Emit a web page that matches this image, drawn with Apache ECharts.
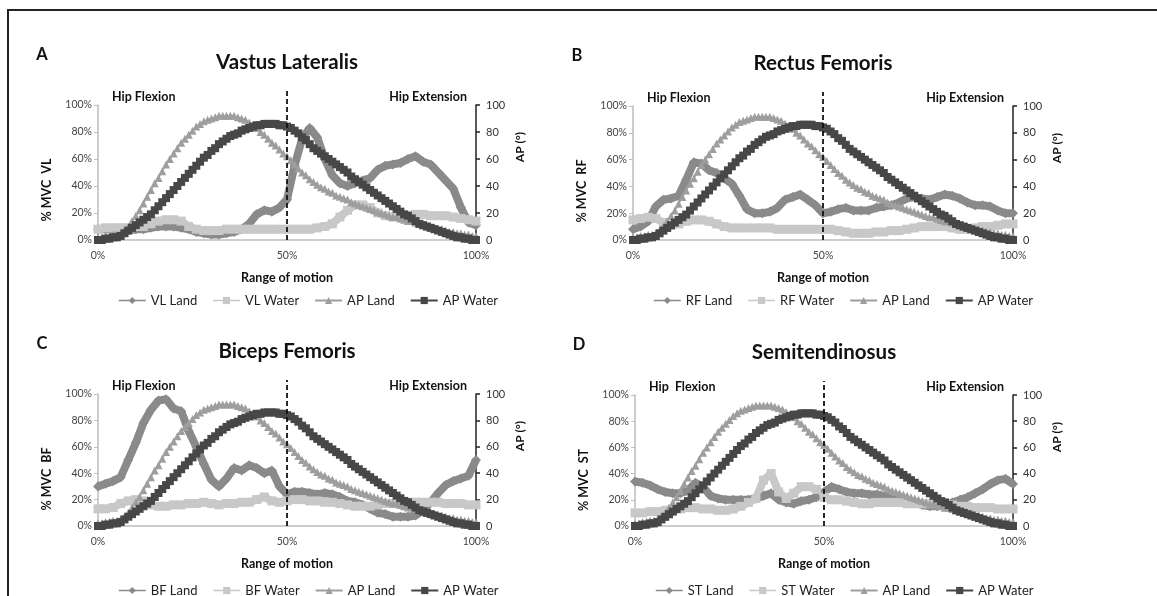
<!DOCTYPE html>
<html>
<head>
<meta charset="utf-8">
<script src="https://cdn.jsdelivr.net/npm/echarts@6/dist/echarts.min.js"></script>
<style>
html, body { margin: 0; padding: 0; background: #fff; }
#chart { width: 1157px; height: 596px; }
</style>
</head>
<body>
<div id="chart"></div>
<script>
// x = percent of range of motion
var xTickPct = [0, 50, 100];
var dividerPct = 50;
var pctFine = [];
for (var i = 0; i <= 100; i++) pctFine.push(i);
var pctEmg = [];
for (var j = 0; j <= 100; j += 2) pctEmg.push(j);

// hip angle (AP, degrees) - same curves in all four panels
var apLand = [2, 2, 3, 3, 4, 4, 5, 7, 10, 14,
  18, 22, 27, 32, 37, 42, 46, 51, 56, 60,
  64, 68, 72, 75, 78, 81, 84, 86, 88, 89,
  90, 91, 92, 92, 92, 92, 92, 91, 90, 89,
  87, 85, 83, 80, 78, 75, 72, 70, 67, 64,
  62, 59, 56, 53, 50, 48, 45, 43, 41, 39,
  38, 36, 35, 33, 32, 31, 30, 28, 27, 26,
  25, 24, 23, 22, 21, 20, 19, 18, 17, 17,
  16, 15, 14, 14, 13, 12, 11, 10, 10, 9,
  8, 8, 7, 6, 6, 5, 5, 4, 4, 3,
  3];
var apWater = [0, 0, 1, 1, 2, 2, 3, 5, 7, 9,
  11, 13, 15, 17, 19, 22, 25, 28, 31, 34,
  37, 40, 43, 46, 49, 52, 55, 58, 61, 63,
  66, 68, 71, 73, 75, 77, 78, 79, 81, 82,
  83, 84, 85, 85, 86, 86, 86, 86, 85, 85,
  84, 83, 81, 79, 76, 74, 71, 68, 66, 64,
  62, 60, 58, 56, 54, 52, 50, 47, 45, 43,
  41, 39, 37, 35, 33, 31, 29, 27, 25, 23,
  21, 19, 18, 16, 14, 12, 11, 10, 9, 8,
  7, 6, 5, 4, 3, 2, 2, 1, 1, 0,
  0];

// EMG (% MVC), every 2% of motion
var vlLand = [8, 8, 8, 8, 7, 8, 8, 9, 10, 10,
  10, 9, 8, 6, 5, 4, 4, 5, 6, 8,
  12, 19, 22, 21, 24, 30, 55, 75, 83, 76,
  60, 48, 42, 40, 42, 44, 46, 52, 55, 56,
  57, 60, 62, 58, 56, 50, 44, 38, 24, 13,
  11];
var vlWater = [8, 9, 9, 9, 9, 10, 10, 12, 14, 15,
  15, 14, 10, 8, 7, 7, 7, 8, 8, 8,
  8, 8, 8, 8, 8, 8, 8, 8, 8, 9,
  10, 12, 17, 22, 26, 26, 24, 20, 18, 17,
  18, 18, 19, 19, 18, 18, 18, 17, 16, 15,
  14];
var rfLand = [8, 10, 14, 25, 30, 31, 33, 45, 58, 57,
  52, 50, 46, 42, 33, 23, 20, 20, 21, 24,
  30, 32, 34, 30, 26, 20, 21, 23, 24, 22,
  22, 22, 24, 25, 26, 28, 31, 32, 31, 30,
  32, 34, 33, 31, 28, 26, 26, 25, 22, 20,
  20];
var rfWater = [15, 16, 17, 16, 13, 11, 12, 14, 15, 15,
  14, 12, 10, 9, 9, 9, 9, 9, 9, 8,
  8, 8, 8, 8, 8, 8, 8, 7, 6, 5,
  5, 5, 6, 6, 7, 7, 8, 9, 10, 10,
  10, 10, 9, 8, 8, 9, 10, 10, 11, 12,
  12];
var bfLand = [30, 32, 34, 37, 50, 63, 78, 88, 95, 96,
  89, 87, 72, 60, 47, 35, 30, 36, 44, 42,
  46, 44, 40, 42, 30, 24, 26, 26, 25, 24,
  25, 24, 22, 19, 18, 16, 13, 10, 9, 7,
  7, 7, 8, 12, 18, 25, 31, 34, 36, 38,
  50];
var bfWater = [13, 13, 14, 17, 19, 20, 19, 16, 15, 15,
  16, 16, 17, 17, 18, 17, 16, 17, 17, 18,
  18, 20, 22, 19, 18, 19, 20, 20, 19, 19,
  18, 18, 17, 16, 15, 15, 15, 16, 17, 17,
  17, 18, 18, 18, 18, 18, 17, 17, 17, 16,
  16];
var stLand = [34, 33, 31, 28, 26, 25, 25, 27, 33, 30,
  23, 21, 20, 20, 20, 20, 21, 23, 25, 20,
  18, 17, 19, 20, 22, 26, 30, 28, 26, 25,
  25, 24, 24, 23, 22, 21, 20, 18, 16, 15,
  15, 16, 18, 20, 22, 25, 28, 32, 35, 36,
  32];
var stWater = [10, 10, 11, 11, 12, 12, 13, 14, 14, 13,
  13, 12, 12, 13, 15, 18, 21, 35, 40, 26,
  21, 25, 30, 30, 28, 22, 20, 20, 19, 18,
  17, 17, 18, 18, 18, 18, 17, 17, 17, 17,
  17, 17, 16, 15, 15, 14, 14, 14, 13, 13,
  13];

var panels = [
  { letter: "A", title: "Vastus Lateralis", abbr: "VL", land: vlLand, water: vlWater, flex: "Hip Flexion",
    box: { left: 98, right: 476, top: 105, bottom: 240 }, legendGap: 49 },
  { letter: "B", title: "Rectus Femoris", abbr: "RF", land: rfLand, water: rfWater, flex: "Hip Flexion",
    box: { left: 633, right: 1013, top: 106, bottom: 240 }, legendGap: 49 },
  { letter: "C", title: "Biceps Femoris", abbr: "BF", land: bfLand, water: bfWater, flex: "Hip Flexion",
    box: { left: 98, right: 476, top: 394, bottom: 526 }, legendGap: 53 },
  { letter: "D", title: "Semitendinosus", abbr: "ST", land: stLand, water: stWater, flex: "Hip  Flexion",
    box: { left: 635, right: 1013, top: 395, bottom: 526 }, legendGap: 53 }
];

var W = 1157, H = 596;
var font = 'Lato, "Open Sans", sans-serif';
var colLand = "#8a8a8a", colWater = "#c8c8c8", colApLand = "#9e9e9e", colApWater = "#474747";

function pairs(xs, ys) {
  return xs.map(function (x, k) { return [x, ys[k]]; });
}
function txt(x, y, text, size, opts) {
  opts = opts || {};
  return {
    type: "text", x: x, y: y, rotation: opts.rot || 0, silent: true,
    style: {
      text: text, fontFamily: font, fontSize: size, fontWeight: opts.weight || "bold",
      fill: "#111", align: opts.align || "center", verticalAlign: "middle"
    }
  };
}

var grid = [], xAxis = [], yAxis = [], series = [], legend = [];
var graphic = [{
  type: "rect", silent: true,
  shape: { x: 8, y: 10, width: 1160, height: 600 },
  style: { fill: "none", stroke: "#222", lineWidth: 2 }
}];

panels.forEach(function (p) {
  var b = p.box;
  var g = grid.length;
  grid.push({ left: b.left, right: W - b.right, top: b.top, bottom: H - b.bottom });
  // overlay grid a bit taller, only for the dashed divider
  grid.push({ left: b.left, right: W - b.right, top: b.top - 14, bottom: H - b.bottom });

  var xi = xAxis.length;
  xAxis.push({
    type: "value", gridIndex: g, min: 0, max: 100, interval: 50,
    axisLine: { lineStyle: { color: "#bdbdbd", width: 1.5 } },
    axisTick: { show: false }, splitLine: { show: false },
    axisLabel: { formatter: "{value}%", fontSize: 10.5, color: "#444", margin: 10, fontFamily: font,
      customValues: xTickPct }
  });
  xAxis.push({ type: "value", gridIndex: g + 1, min: 0, max: 100, show: false });

  var yi = yAxis.length;
  yAxis.push({
    type: "value", gridIndex: g, min: 0, max: 100, interval: 20, position: "left",
    axisLine: { show: true, lineStyle: { color: "#bdbdbd", width: 1.5 } },
    axisTick: { show: true, length: 4, lineStyle: { color: "#bdbdbd" } },
    splitLine: { show: false },
    axisLabel: { formatter: "{value}%", fontSize: 10.5, color: "#444", margin: 6, fontFamily: font }
  });
  yAxis.push({
    type: "value", gridIndex: g, min: 0, max: 100, interval: 20, position: "right",
    axisLine: { show: true, lineStyle: { color: "#222", width: 1.5 } },
    axisTick: { show: true, length: 4, inside: false, lineStyle: { color: "#222", width: 1.5 } },
    splitLine: { show: false },
    axisLabel: { fontSize: 11, color: "#333", margin: 10, fontFamily: font }
  });
  yAxis.push({ type: "value", gridIndex: g + 1, min: 0, max: 1, show: false });

  series.push({
    name: p.abbr + " Land", type: "line", xAxisIndex: xi, yAxisIndex: yi,
    data: pairs(pctEmg, p.land), symbol: "diamond", symbolSize: 10, showAllSymbol: true,
    lineStyle: { color: colLand, width: 8 }, itemStyle: { color: colLand }, z: 2
  });
  series.push({
    name: p.abbr + " Water", type: "line", xAxisIndex: xi, yAxisIndex: yi,
    data: pairs(pctEmg, p.water), symbol: "rect", symbolSize: 9, showAllSymbol: true,
    lineStyle: { color: colWater, width: 8 }, itemStyle: { color: colWater }, z: 2
  });
  series.push({
    name: "AP Land", type: "line", xAxisIndex: xi, yAxisIndex: yi + 1,
    data: pairs(pctFine, apLand), symbol: "triangle", symbolSize: 8, showAllSymbol: true,
    lineStyle: { color: colApLand, width: 1.5 }, itemStyle: { color: colApLand }, z: 3
  });
  series.push({
    name: "AP Water", type: "line", xAxisIndex: xi, yAxisIndex: yi + 1,
    data: pairs(pctFine, apWater), symbol: "rect", symbolSize: 8, showAllSymbol: true,
    lineStyle: { color: colApWater, width: 1.5 }, itemStyle: { color: colApWater }, z: 4
  });
  series.push({
    type: "line", xAxisIndex: xi + 1, yAxisIndex: yi + 2, silent: true, symbol: "none",
    data: [[dividerPct, 0], [dividerPct, 1]],
    lineStyle: { color: "#111", width: 1.8, type: [5, 3] }, z: 5
  });

  legend.push({
    left: b.left + 15, top: b.bottom + p.legendGap, itemWidth: 27, itemHeight: 9, itemGap: 15,
    textStyle: { fontSize: 13, color: "#222", fontFamily: font },
    data: [
      { name: p.abbr + " Land", lineStyle: { width: 1.5 } },
      { name: p.abbr + " Water", lineStyle: { width: 1.5 } },
      { name: "AP Land" },
      { name: "AP Water", lineStyle: { width: 2 } }
    ]
  });

  var cx = (b.left + b.right) / 2;
  graphic.push(txt(cx, b.top - 43, p.title, 20.5));
  graphic.push(txt(b.left - 56, b.top - 50, p.letter, 16.5));
  graphic.push(txt(b.left + 14, b.top - 8, p.flex, 12.5, { align: "left" }));
  graphic.push(txt(b.right - 9, b.top - 8, "Hip Extension", 12.5, { align: "right" }));
  graphic.push(txt(cx, b.bottom + 38, "Range of motion", 12.5));
  graphic.push(txt(b.left - 51, b.top + 85, "% MVC  " + p.abbr, 12.5, { rot: Math.PI / 2 }));
  graphic.push(txt(b.right + 44, b.top + 42, "AP (°)", 12, { rot: Math.PI / 2 }));
});

var chart = echarts.init(document.getElementById("chart"));
chart.setOption({
  animation: false,
  backgroundColor: "#fff",
  grid: grid,
  xAxis: xAxis,
  yAxis: yAxis,
  legend: legend,
  series: series,
  graphic: graphic
});
</script>
</body>
</html>
